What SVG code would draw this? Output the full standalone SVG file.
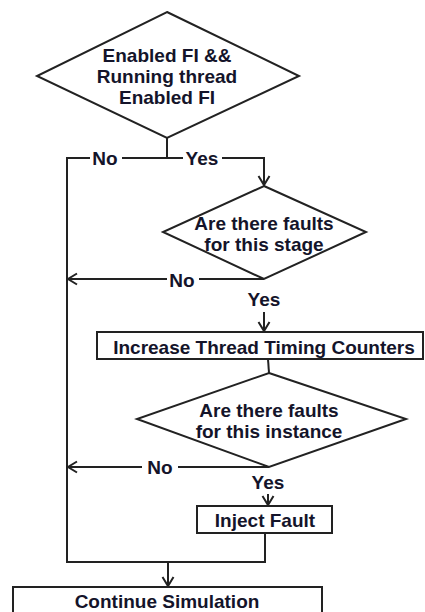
<svg xmlns="http://www.w3.org/2000/svg" width="425" height="612" viewBox="0 0 425 612">
<style>
.shape{fill:#ffffff;stroke:#222222;stroke-width:2}
.conn{fill:none;stroke:#222222;stroke-width:2}
text{font-family:"Liberation Sans",Arial,sans-serif;font-weight:bold;font-size:19px;fill:#14142a;text-anchor:middle}
</style>
<defs>
<marker id="arr" markerUnits="userSpaceOnUse" markerWidth="14" markerHeight="14" viewBox="0 0 14 14" refX="12" refY="7" orient="auto">
<path d="M3,1.5 L12,7 L3,12.5" fill="none" stroke="#222222" stroke-width="2"/>
</marker>
</defs>
<rect width="425" height="612" fill="#ffffff"/>
<g id="connectors">
<path class="conn" d="M167,138 V158 H122"/>
<path class="conn" d="M90,158 H67 V562 H265 V533"/>
<path class="conn" d="M167,158 H183"/>
<path class="conn" d="M222,158 H264 V185" marker-end="url(#arr)"/>
<path class="conn" d="M264,279 H199"/>
<path class="conn" d="M167,279 H68" marker-end="url(#arr)"/>
<path class="conn" d="M264,312 V331" marker-end="url(#arr)"/>
<path class="conn" d="M268,359 L269,373"/>
<path class="conn" d="M269,467 H178"/>
<path class="conn" d="M142,467 H68" marker-end="url(#arr)"/>
<path class="conn" d="M268,494 V505" marker-end="url(#arr)"/>
<path class="conn" d="M168,562 V586" marker-end="url(#arr)"/>
<text x="105" y="165">No</text>
<text x="202" y="165">Yes</text>
<text x="182" y="287">No</text>
<text x="264" y="306">Yes</text>
<text x="160" y="474">No</text>
<text x="268" y="489">Yes</text>
</g>
<g id="d1">
<polygon class="shape" points="167,12 299,76 167,138 37,76"/>
<text x="167" y="62">Enabled FI &amp;&amp;</text>
<text x="167" y="83">Running thread</text>
<text x="167" y="104">Enabled FI</text>
</g>
<g id="d2">
<polygon class="shape" points="264,186 366,232 264,279 163,232"/>
<text x="264" y="230">Are there faults</text>
<text x="264" y="251">for this stage</text>
</g>
<g id="b1">
<rect class="shape" x="97" y="332" width="326" height="27"/>
<text x="264" y="354">Increase Thread Timing Counters</text>
</g>
<g id="d3">
<polygon class="shape" points="269,373 406,419 269,467 137,419"/>
<text x="269" y="417">Are there faults</text>
<text x="269" y="438">for this instance</text>
</g>
<g id="b2">
<rect class="shape" x="197" y="506" width="135" height="27"/>
<text x="265" y="527">Inject Fault</text>
</g>
<g id="b3">
<rect class="shape" x="13" y="587" width="309" height="30"/>
<text x="167" y="608">Continue Simulation</text>
</g>
</svg>
